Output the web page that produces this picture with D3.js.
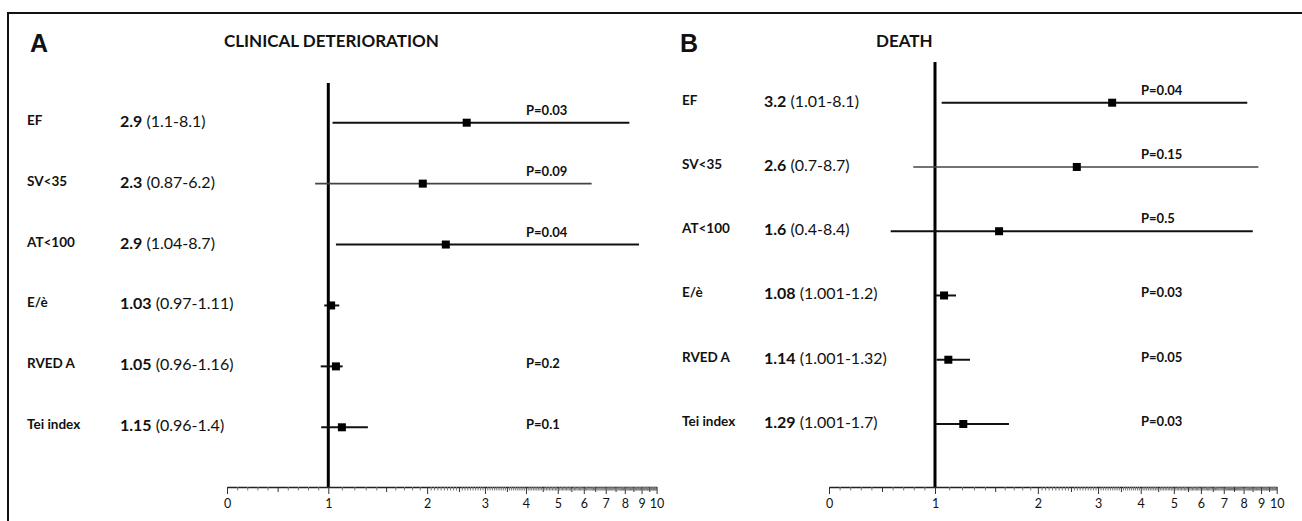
<!DOCTYPE html>
<html>
<head>
<meta charset="utf-8">
<script src="https://cdn.jsdelivr.net/npm/d3@7/dist/d3.min.js"></script>
<style>
  body { margin: 0; background: #fff; }
  svg { display: block; }
  text { font-family: Lato, "Open Sans", sans-serif; fill: #111; }
</style>
</head>
<body>
<svg id="chart" width="1302" height="521"></svg>
<script>
// row labels (same for both panels)
var rows = ["EF", "SV<35", "AT<100", "E/è", "RVED A", "Tei index"];

// panel A : clinical deterioration
var hrTextA = ["2.9", "2.3", "2.9", "1.03", "1.05", "1.15"];
var ciTextA = ["(1.1-8.1)", "(0.87-6.2)", "(1.04-8.7)", "(0.97-1.11)", "(0.96-1.16)", "(0.96-1.4)"];
var pTextA  = ["P=0.03", "P=0.09", "P=0.04", "", "P=0.2", "P=0.1"];
var pointA  = [2.64, 1.94, 2.28, 1.02, 1.055, 1.10];//plotted as in the figure
var lowA    = [1.03, 0.87, 1.055, 0.96, 0.925, 0.93];
var highA   = [8.26, 6.34, 8.84, 1.08, 1.106, 1.32];

// panel B : death
var hrTextB = ["3.2", "2.6", "1.6", "1.08", "1.14", "1.29"];
var ciTextB = ["(1.01-8.1)", "(0.7-8.7)", "(0.4-8.4)", "(1.001-1.2)", "(1.001-1.32)", "(1.001-1.7)"];
var pTextB  = ["P=0.04", "P=0.15", "P=0.5", "P=0.03", "P=0.05", "P=0.03"];
var pointB  = [3.30, 2.60, 1.54, 1.063, 1.094, 1.21];
var lowB    = [1.046, 0.795, 0.582, 1.005, 1.011, 1.007];
var highB   = [8.2, 8.84, 8.51, 1.152, 1.266, 1.646];

// axis tick values : 0-1 linear part, 1-10 log part
var linTicks = d3.range(0, 10).map(function(i){ return i / 10; });
var logTicks = d3.range(10, 20).map(function(i){ return i / 10; })
    .concat(d3.range(40, 201).map(function(i){ return i / 20; }));

var svg = d3.select("#chart");

// frame
svg.append("path")
    .attr("d", "M8,521 V13 H1302")
    .attr("fill", "none")
    .attr("stroke", "#111")
    .attr("stroke-width", 2);

var axisY = 487;

function drawPanel(cfg, d){
    var g = svg.append("g");

    var lin = d3.scaleLinear().domain([0, 1]).range([cfg.x0, cfg.x1]);
    var log = d3.scaleLog().domain([1, 10]).range([cfg.x1, cfg.x10]);
    var x = function(v){ return v < 1 ? lin(v) : log(v); };
    var y = d3.scalePoint().domain(rows).range([cfg.yTop, cfg.yBot]);

    g.append("text")
        .attr("x", cfg.letterX).attr("y", 52)
        .style("font-family", "'Liberation Sans', Arial, sans-serif")
        .attr("font-size", 25).attr("font-weight", "bold")
        .text(cfg.letter);
    g.append("text")
        .attr("x", cfg.titleX).attr("y", 47)
        .attr("font-size", 17).attr("font-weight", "bold")
        .text(cfg.title);

    // reference line at 1
    g.append("line")
        .attr("x1", x(1)).attr("x2", x(1))
        .attr("y1", cfg.vTop).attr("y2", axisY)
        .attr("stroke", "#000").attr("stroke-width", 3);

    // axis
    var isInt = function(v){ return Math.abs(v - Math.round(v)) < 1e-6; };
    var tickLen = function(v){
        if(isInt(v)) return 7;
        if(isInt(v * 2)) return 5;
        return 3.5;
    };
    var ax1 = g.append("g").attr("transform", "translate(0," + axisY + ")")
        .call(d3.axisBottom(lin).tickValues(linTicks).tickSizeOuter(0).tickPadding(6)
            .tickFormat(function(v){ return v === 0 ? "0" : ""; }));
    var ax2 = g.append("g").attr("transform", "translate(0," + axisY + ")")
        .call(d3.axisBottom(log).tickValues(logTicks).tickSizeOuter(0).tickPadding(6)
            .tickFormat(function(v){ return isInt(v) ? String(Math.round(v)) : ""; }));
    [ax1, ax2].forEach(function(ax){
        ax.select(".domain").attr("stroke", "#222").attr("stroke-width", 1.5);
        ax.selectAll(".tick line")
            .attr("y2", tickLen)
            .attr("stroke", function(v){ return isInt(v) || isInt(v * 2) ? "#333" : "#777"; });
        ax.selectAll(".tick text")
            .attr("font-size", 12.5)
            .style("font-family", "Lato, sans-serif")
            .attr("fill", "#222");
    });

    rows.forEach(function(r, i){
        var yy = y(r);
        g.append("text")
            .attr("x", cfg.labelX).attr("y", yy - 3)
            .attr("dominant-baseline", "central")
            .attr("font-size", 13.5).attr("font-weight", "bold")
            .text(r);
        var t = g.append("text")
            .attr("x", cfg.valueX).attr("y", yy - 3)
            .attr("dominant-baseline", "central")
            .attr("font-size", 16);
        t.append("tspan").attr("font-weight", "bold").text(d.hr[i]);
        t.append("tspan").text(" " + d.ci[i]);

        g.append("line")
            .attr("x1", x(d.low[i])).attr("x2", x(d.high[i]))
            .attr("y1", yy).attr("y2", yy)
            .attr("stroke", i === 1 ? "#444" : "#111")
            .attr("stroke-width", i === 1 ? 1.6 : 2);
        g.append("rect")
            .attr("x", x(d.point[i]) - 4).attr("y", yy - 4)
            .attr("width", 8).attr("height", 8)
            .attr("fill", "#000");

        if(d.p[i]){
            var above = x(d.high[i]) > cfg.pX;
            g.append("text")
                .attr("x", cfg.pX).attr("y", above ? yy - 13 : yy - 3)
                .attr("dominant-baseline", "central")
                .attr("font-size", 13).attr("font-weight", "bold")
                .text(d.p[i]);
        }
    });
}

drawPanel({letter: "A", letterX: 30, title: "CLINICAL DETERIORATION", titleX: 224,
           labelX: 27, valueX: 120, pX: 526,
           x0: 227, x1: 328.3, x10: 656.6, vTop: 83, yTop: 122.7, yBot: 427.3},
          {hr: hrTextA, ci: ciTextA, p: pTextA, point: pointA, low: lowA, high: highA});

drawPanel({letter: "B", letterX: 680, title: "DEATH", titleX: 876,
           labelX: 682, valueX: 764, pX: 1141,
           x0: 829, x1: 935, x10: 1276.7, vTop: 62, yTop: 102.7, yBot: 424},
          {hr: hrTextB, ci: ciTextB, p: pTextB, point: pointB, low: lowB, high: highB});
</script>
</body>
</html>
